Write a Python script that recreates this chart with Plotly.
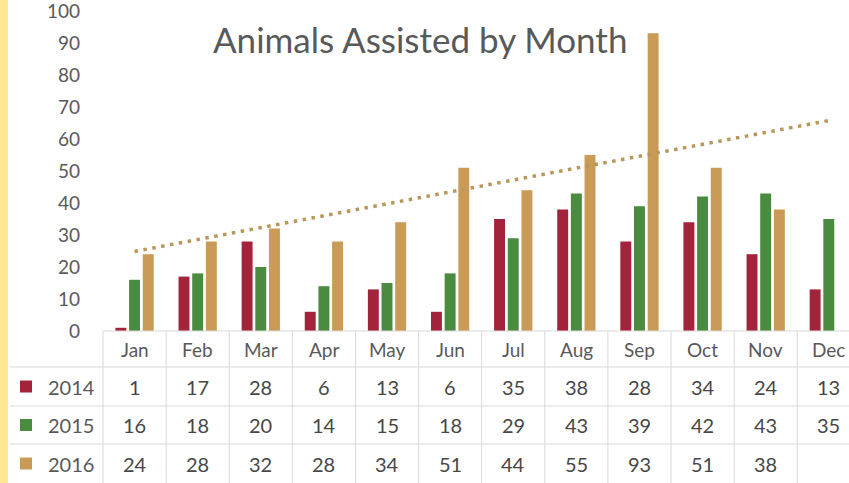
import numpy as np
import plotly.graph_objects as go

# ---------------- data ----------------
months = ["Jan", "Feb", "Mar", "Apr", "May", "Jun", "Jul", "Aug", "Sep", "Oct", "Nov", "Dec"]
years = ["2014", "2015", "2016"]
v2014 = [1, 17, 28, 6, 13, 6, 35, 38, 28, 34, 24, 13]
v2015 = [16, 18, 20, 14, 15, 18, 29, 43, 39, 42, 43, 35]
v2016 = [24, 28, 32, 28, 34, 51, 44, 55, 93, 51, 38, None]
y_ticks = [0, 10, 20, 30, 40, 50, 60, 70, 80, 90, 100]
title_text = "Animals Assisted by Month"

# ---------------- style ----------------
colors = ["#A3233A", "#4B8B3F", "#C99B56"]
trend_color = "#B8975A"
text_gray = "#595959"
num_gray = "#474747"
grid_col = "#D9D9D9"
FONT = "Lato"

W, H = 849, 483
PL, PR = 103, 849      # plot area left/right in px
PT, PB = 10, 331       # plot area top/bottom in px
X0, X1 = -0.5, 11.32   # category range shown
Y0, Y1 = 0, 100.3


def px_x(px):
    return (px - PL) / (PR - PL)


def px_y(py):
    return (PB - py) / (PB - PT)


def cat_to_px(c):
    return PL + (c - X0) / (X1 - X0) * (PR - PL)


series = [v2014, v2015, v2016]

fig = go.Figure()
for name, vals, col in zip(years, series, colors):
    fig.add_bar(x=months, y=vals, name=name, marker_color=col, marker_line_width=0)

# linear trendline of 2016 data, extended over all months
idx = [i for i, v in enumerate(v2016) if v is not None]
coef = np.polyfit(np.array(idx) + 1, [v2016[i] for i in idx], 1)
trend = np.polyval(coef, np.arange(1, len(months) + 1))
fig.add_scatter(x=months, y=trend, mode="lines", hoverinfo="skip",
                line=dict(color=trend_color, width=3.5, dash="3.5px,5.5px"))

shapes = []
annotations = []

# yellow strip at left
shapes.append(dict(type="rect", xref="paper", yref="paper",
                   x0=px_x(0), x1=px_x(8), y0=px_y(0), y1=px_y(H),
                   fillcolor="#FFE794", line_width=0, layer="below"))

# table grid
row_tops = [331, 367, 406, 444]
row_bottom = 483
shapes.append(dict(type="line", xref="paper", yref="paper",
                   x0=px_x(PL), x1=px_x(PR), y0=px_y(row_tops[0]), y1=px_y(row_tops[0]),
                   line=dict(color=grid_col, width=1)))
for yt in row_tops[1:]:
    shapes.append(dict(type="line", xref="paper", yref="paper",
                       x0=px_x(10), x1=px_x(PR), y0=px_y(yt), y1=px_y(yt),
                       line=dict(color=grid_col, width=1)))
for i in range(len(months) + 1):
    xp = cat_to_px(i - 0.5)
    if xp > PR + 1:
        continue
    shapes.append(dict(type="line", xref="paper", yref="paper",
                       x0=px_x(xp), x1=px_x(xp), y0=px_y(row_tops[0]), y1=px_y(row_bottom),
                       line=dict(color=grid_col, width=1)))

# header month labels
hdr_c = (row_tops[0] + row_tops[1]) / 2
for m in months:
    annotations.append(dict(x=m, xref="x", y=px_y(hdr_c + 1), yref="paper", text=m,
                            xanchor="center", yanchor="middle",
                            showarrow=False, font=dict(family=FONT, size=19, color=text_gray)))

# rows
row_centers = [(row_tops[1] + row_tops[2]) / 2, (row_tops[2] + row_tops[3]) / 2,
               (row_tops[3] + row_bottom) / 2]
for name, vals, col, rc in zip(years, series, colors, row_centers):
    shapes.append(dict(type="rect", xref="paper", yref="paper",
                       x0=px_x(20), x1=px_x(32), y0=px_y(rc - 6), y1=px_y(rc + 6),
                       fillcolor=col, line_width=0))
    annotations.append(dict(x=px_x(46), xref="paper", y=px_y(rc), yref="paper", text=name,
                            xanchor="left", yanchor="middle", showarrow=False,
                            font=dict(family=FONT, size=20, color=text_gray)))
    for m, v in zip(months, vals):
        if v is None:
            continue
        annotations.append(dict(x=m, xref="x", y=px_y(rc), yref="paper", text=str(v),
                                xanchor="center", yanchor="middle",
                                showarrow=False, font=dict(family=FONT, size=20, color=num_gray)))

# title
annotations.append(dict(x=px_x(420), xref="paper", y=px_y(39), yref="paper", text=title_text,
                        xanchor="center", yanchor="middle",
                        showarrow=False, font=dict(family=FONT, size=35, color=text_gray)))

fig.update_layout(
    width=W, height=H,
    margin=dict(l=PL, r=W - PR, t=PT, b=H - PB, pad=0, autoexpand=False),
    paper_bgcolor="white", plot_bgcolor="white",
    barmode="group", bargap=0.35, bargroupgap=0.2,
    showlegend=False,
    font=dict(family=FONT, color=text_gray, size=19),
    shapes=shapes, annotations=annotations,
    xaxis=dict(range=[X0, X1], showticklabels=False, showgrid=False, zeroline=False,
               showline=False, ticks="", automargin=False),
    yaxis=dict(range=[Y0, Y1], tickvals=y_ticks, showgrid=False, zeroline=False,
               showline=False, ticks="", ticklabelstandoff=22, automargin=False,
               ticklabeloverflow="allow",
               tickfont=dict(family=FONT, size=19, color=text_gray)),
)

fig.write_html("out.html", config={"displayModeBar": False},
               post_script="document.body.style.margin='0';document.body.style.overflow='hidden';")
